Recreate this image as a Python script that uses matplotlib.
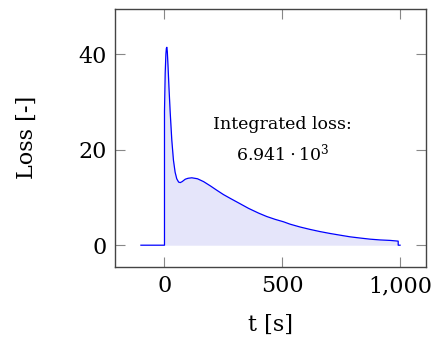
import numpy as np
import matplotlib
matplotlib.use('Agg')
import matplotlib.pyplot as plt

# data
t    = [-100, 0, 0, 3, 6, 8, 10, 12, 15, 19, 24, 31, 38, 45, 52, 60, 67, 75, 88, 100, 116, 140, 166,
        195, 222, 250, 279, 320, 357, 400, 434, 470, 505, 533, 576, 618, 660, 703, 745, 788, 830,
        873, 915, 958, 992, 992, 1000]
loss = [0, 0, 28, 36, 40, 41.2, 41.4, 40.5, 37.5, 33, 28, 22, 17.8, 15.3, 13.9, 13.2, 13.1, 13.3, 13.8, 14.0, 14.1, 13.9, 13.3,
        12.4, 11.5, 10.6, 9.8, 8.7, 7.7, 6.7, 6.0, 5.4, 4.9, 4.4, 3.8, 3.3, 2.85, 2.45, 2.1, 1.75, 1.5,
        1.26, 1.1, 1.0, 0.85, 0, 0]
xticks = [0, 500, 1000]
xticklabels = ['0', '500', '1,000']
yticks = [0, 20, 40]
note = 'Integrated loss:\n$6.941\\cdot10^3$'

plt.rcParams['font.family'] = 'DejaVu Serif'
plt.rcParams['mathtext.fontset'] = 'dejavuserif'

fig = plt.figure(figsize=(4.35, 3.44), dpi=100)
ax = fig.add_axes([0.2644, 0.2247, 0.9793 - 0.2644, 0.975 - 0.2247])

t = np.array(t)
loss = np.array(loss)
mask = t >= 0
ax.fill_between(t[mask], 0, loss[mask], color='#e5e5fa', lw=0)
ax.plot(t, loss, color='blue', lw=0.9)

ax.text(500, 22.0, note, ha='center', va='center', fontsize=12.5, linespacing=1.5)

ax.set_xlim(-210, 1110)
ax.set_ylim(-4.5, 49.5)
ax.set_xticks(xticks)
ax.set_xticklabels(xticklabels)
ax.set_yticks(yticks)
ax.tick_params(direction='in', length=7, width=0.8, color='#888888', labelsize=16,
               top=True, right=True, pad=6)
for s in ax.spines.values():
    s.set_color('#444444')
    s.set_linewidth(1.0)

ax.set_xlabel('t [s]', fontsize=16, labelpad=12)
ax.set_ylabel('Loss [-]', fontsize=16, labelpad=29)

plt.savefig('out.png', dpi=100)
